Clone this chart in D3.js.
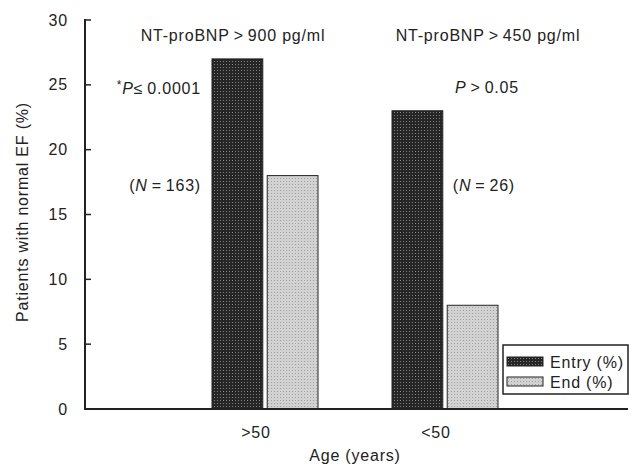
<!DOCTYPE html>
<html>
<head>
<meta charset="utf-8">
<script src="https://cdn.jsdelivr.net/npm/d3@7"></script>
<style>
  body { margin: 0; background: #fff; }
  text { font-family: "Liberation Sans", Arial, sans-serif; fill: #222; font-size: 16px; letter-spacing: 0.8px; }
</style>
</head>
<body>
<svg id="chart" width="636" height="470"></svg>
<script>
// data
const ageGroups = [">50", "<50"];
const seriesNames = ["Entry (%)", "End (%)"];
const entryVals = [27, 23];
const endVals = [18, 8];
const yTicks = [0, 5, 10, 15, 20, 25, 30];
const thresholdLabels = ["NT-proBNP\u2009>\u2009900 pg/ml", "NT-proBNP\u2009>\u2009450 pg/ml"];
const pLabels = [["*", "P", "\u2264\u20090.0001"], ["", "P", "\u2009>\u20090.05"]];
const nLabels = ["163", "26"];

var svg = d3.select("#chart");
var margin = {top: 20, right: 8, bottom: 61, left: 85};
var width = +svg.attr("width");
var height = +svg.attr("height");
var plotBottom = height - margin.bottom;

// patterns to imitate the halftone fills
var defs = svg.append("defs");
function addPattern(id, bg, dot) {
  var p = defs.append("pattern")
    .attr("id", id)
    .attr("width", 3).attr("height", 3)
    .attr("patternUnits", "userSpaceOnUse");
  p.append("rect").attr("width", 3).attr("height", 3).attr("fill", bg);
  p.append("rect").attr("x", 1).attr("y", 1).attr("width", 1).attr("height", 1).attr("fill", dot);
}
addPattern("patDark", "#262626", "#808080");
addPattern("patLight", "#d2d2d2", "#a0a0a0");
var fills = ["url(#patDark)", "url(#patLight)"];

var y = d3.scaleLinear().domain([0, 30]).range([plotBottom, margin.top]);

var x = d3.scaleBand().domain(ageGroups).range([175, 535]).paddingInner(0);
var xInner = d3.scaleBand().domain(seriesNames).range([-53, 53]).paddingInner(0.08);

var data = [];
ageGroups.forEach(function(g, i) {
  data.push({group: g, series: seriesNames[0], value: entryVals[i]});
  data.push({group: g, series: seriesNames[1], value: endVals[i]});
});

// bars
svg.append("g").selectAll("rect")
  .data(data)
  .enter().append("rect")
  .attr("x", d => x(d.group) + x.bandwidth() / 2 + xInner(d.series))
  .attr("y", d => y(d.value))
  .attr("width", xInner.bandwidth())
  .attr("height", d => plotBottom - y(d.value))
  .attr("fill", d => fills[seriesNames.indexOf(d.series)])
  .attr("stroke", "#222")
  .attr("stroke-width", 1);

// y axis
var yAxis = svg.append("g")
  .attr("transform", "translate(" + margin.left + ",0)");
yAxis.append("line")
  .attr("x1", 0).attr("x2", 0)
  .attr("y1", y(30) - 1).attr("y2", plotBottom + 1)
  .attr("stroke", "#222").attr("stroke-width", 2);
yAxis.selectAll(".tick")
  .data(yTicks)
  .enter().append("line")
  .attr("x1", 0).attr("x2", 6)
  .attr("y1", d => y(d)).attr("y2", d => y(d))
  .attr("stroke", "#222").attr("stroke-width", 1.5);
yAxis.selectAll(".lbl")
  .data(yTicks)
  .enter().append("text")
  .attr("x", -17)
  .attr("y", d => y(d))
  .attr("dy", "0.35em")
  .attr("text-anchor", "end")
  .text(d => d);

// x axis line
svg.append("line")
  .attr("x1", margin.left).attr("x2", width - margin.right)
  .attr("y1", plotBottom).attr("y2", plotBottom)
  .attr("stroke", "#222").attr("stroke-width", 2);

svg.append("g").selectAll("text")
  .data(ageGroups)
  .enter().append("text")
  .attr("x", d => x(d) + x.bandwidth() / 2 - 9)
  .attr("y", plotBottom + 29)
  .attr("text-anchor", "middle")
  .text(d => d);

// axis titles
svg.append("text")
  .attr("x", 355)
  .attr("y", 461)
  .attr("text-anchor", "middle")
  .text("Age (years)");

svg.append("text")
  .attr("transform", "translate(28," + 212 + ") rotate(-90)")
  .attr("text-anchor", "middle")
  .text("Patients with normal EF (%)");

// annotations
var annX = [233, 488];
svg.append("g").selectAll("text")
  .data(thresholdLabels)
  .enter().append("text")
  .attr("x", (d, i) => annX[i])
  .attr("y", 41)
  .attr("text-anchor", "middle")
  .text(d => d);

var pX = [201, 519];
pLabels.forEach(function(p, i) {
  var t = svg.append("text")
    .attr("x", pX[i])
    .attr("y", 93)
    .attr("text-anchor", "end");
  if (p[0]) t.append("tspan").attr("dy", "-0.3em").style("font-size", "12px").text(p[0]);
  t.append("tspan").attr("dy", p[0] ? "0.3em" : 0).style("font-style", "italic").text(p[1]);
  t.append("tspan").text(p[2]);
});

var nX = [201, 515];
nLabels.forEach(function(n, i) {
  var t = svg.append("text")
    .attr("x", nX[i])
    .attr("y", 191)
    .attr("text-anchor", "end");
  t.append("tspan").text("(");
  t.append("tspan").style("font-style", "italic").text("N");
  t.append("tspan").text("\u2009=\u2009" + n + ")");
});

// legend
var legend = svg.append("g").attr("transform", "translate(503,345)");
legend.append("rect")
  .attr("width", 125).attr("height", 49)
  .attr("fill", "#fff")
  .attr("stroke", "#222").attr("stroke-width", 1.5);
var li = legend.selectAll(".item")
  .data(seriesNames)
  .enter().append("g")
  .attr("transform", (d, i) => "translate(4," + (12 + i * 20) + ")");
li.append("rect")
  .attr("width", 36).attr("height", 9)
  .attr("fill", (d, i) => fills[i])
  .attr("stroke", "#222").attr("stroke-width", 1);
li.append("text")
  .attr("x", 43).attr("y", 5)
  .attr("dy", "0.35em")
  .text(d => d);
</script>
</body>
</html>
